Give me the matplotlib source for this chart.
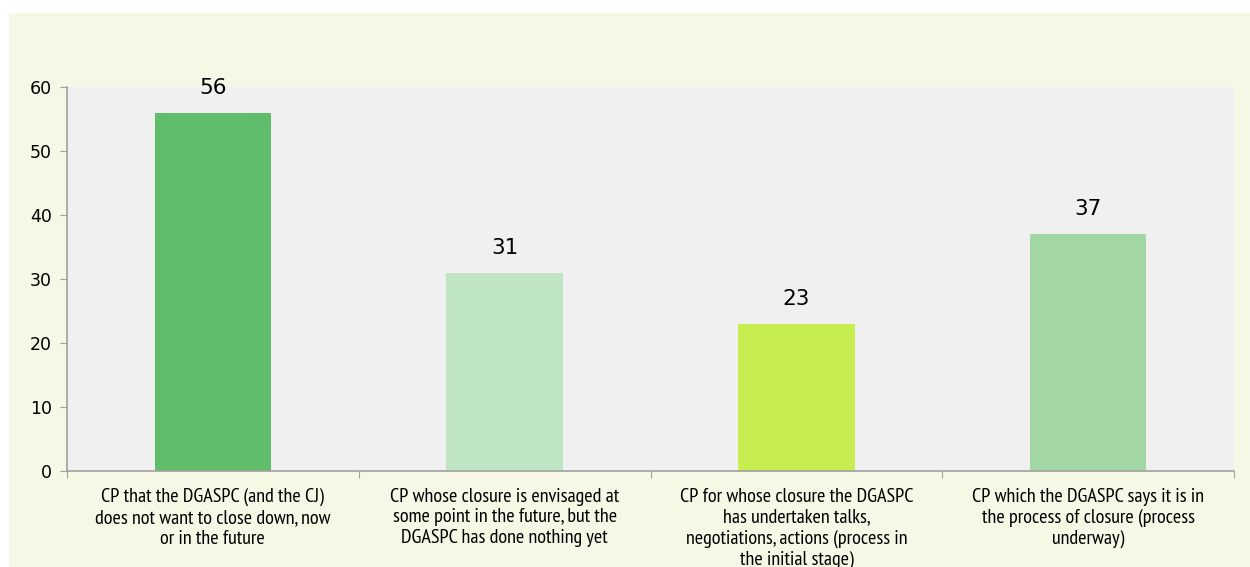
import matplotlib
matplotlib.use('Agg')
import matplotlib.pyplot as plt
from matplotlib.patches import Rectangle
from matplotlib import font_manager
import numpy as np

categories = [
    'CP that the DGASPC (and the CJ)\ndoes not want to close down, now\nor in the future',
    'CP whose closure is envisaged at\nsome point in the future, but the\nDGASPC has done nothing yet',
    'CP for whose closure the DGASPC\nhas undertaken talks,\nnegotiations, actions (process in\nthe initial stage)',
    'CP which the DGASPC says it is in\nthe process of closure (process\nunderway)',
]
values = [56, 31, 23, 37]
colors = ['#60BE6A', '#C0E5C4', '#C6EE50', '#A2D6A4']

# prefer a narrow sans face for the long category labels
names = {f.name for f in font_manager.fontManager.ttflist}
narrow = 'DejaVu Sans'
for cand in ['PT Sans Narrow', 'Roboto Condensed', 'Liberation Sans Narrow', 'Fira Sans Condensed']:
    if cand in names:
        narrow = cand
        break
plt.rcParams['font.family'] = ['DejaVu Sans']

fig = plt.figure(figsize=(12.5, 5.67), dpi=100)
fig.patch.set_facecolor('white')
fig.patches.append(Rectangle((9 / 1250, 0), 1 - 9 / 1250, 1 - 13 / 567,
                             transform=fig.transFigure, facecolor='#F4F8E4',
                             edgecolor='none', zorder=-10))

ax = fig.add_axes([67 / 1250, 1 - 471 / 567, (1234 - 67) / 1250, (471 - 87) / 567])
ax.set_facecolor('#F0F0F0')

x = np.arange(len(values))
ax.bar(x, values, width=0.4, color=colors, zorder=2)
for xi, v in zip(x, values):
    ax.annotate(str(v), (xi, v), xytext=(0, 18), textcoords='offset points',
                ha='center', va='center', fontsize=15.5, color='black')

ax.set_xlim(-0.5, len(values) - 0.5)
ax.set_ylim(0, 60)
ax.set_yticks(range(0, 61, 10))
ax.tick_params(axis='y', labelsize=12.5, length=5, color='#A0A0A0', pad=6)

# category boundaries get the tick marks, labels sit at the bar centres
ax.set_xticks(np.arange(-0.5, len(values), 1.0))
ax.set_xticklabels([])
ax.set_xticks(x, minor=True)
ax.set_xticklabels(categories, minor=True, fontsize=14.5, linespacing=1.2,
                   family=[narrow, 'DejaVu Sans'])
ax.tick_params(axis='x', which='major', length=5, color='#A0A0A0')
ax.tick_params(axis='x', which='minor', length=0, pad=12)

for s in ['top', 'right']:
    ax.spines[s].set_visible(False)
for s in ['left', 'bottom']:
    ax.spines[s].set_color('#A0A0A0')
    ax.spines[s].set_linewidth(1.2)

fig.savefig('out.png', dpi=100)
